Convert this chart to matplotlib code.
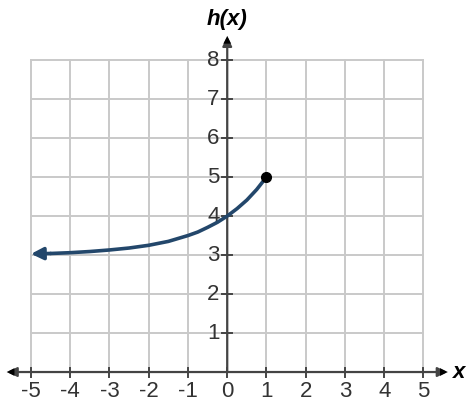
import matplotlib
matplotlib.use("Agg")
from matplotlib import pyplot as plt

# values
x_vals = [-5, -4.5, -4, -3.5, -3, -2.5, -2, -1.5, -1, -0.75, -0.5, -0.25,
          0, 0.25, 0.5, 0.75, 1]
h_vals = [3.03, 3.04, 3.06, 3.09, 3.13, 3.18, 3.25, 3.35, 3.5, 3.59, 3.71,
          3.84, 4.0, 4.19, 4.41, 4.68, 5.0]
end_point = (1, 5)
x_ticks = [-5, -4, -3, -2, -1, 0, 1, 2, 3, 4, 5]
y_ticks = [1, 2, 3, 4, 5, 6, 7, 8]

plt.rcParams['font.family'] = ['Liberation Sans', 'DejaVu Sans']

fig = plt.figure(figsize=(4.69, 4.04), dpi=100)
ax = fig.add_axes([0, 0, 1, 1])
ax.set_xlim(-5.79, 6.16)
ax.set_ylim(-0.82, 9.54)
ax.axis('off')

grid_c = '#c9c9c9'
axis_c = '#444444'

# grid
for gx in x_ticks:
    ax.plot([gx, gx], [0, 8], color=grid_c, lw=1.4, zorder=1)
for gy in [0] + y_ticks:
    ax.plot([-5, 5], [gy, gy], color=grid_c, lw=1.4, zorder=1)

# axes with arrows
ax.annotate('', xy=(-5.6, 0), xytext=(5.6, 0),
            arrowprops=dict(arrowstyle='<|-|>', color=axis_c, lw=1.6,
                            mutation_scale=14, shrinkA=0, shrinkB=0), zorder=2)
ax.annotate('', xy=(0, 8.6), xytext=(0, 0),
            arrowprops=dict(arrowstyle='-|>', color=axis_c, lw=1.6,
                            mutation_scale=14, shrinkA=0, shrinkB=0), zorder=2)
for tip, tail in [((5.62, 0), (5.5, 0)), ((-5.62, 0), (-5.5, 0)),
                  ((0, 8.62), (0, 8.5))]:
    ax.annotate('', xy=tip, xytext=tail,
                arrowprops=dict(arrowstyle='-|>', color='black', lw=0,
                                mutation_scale=14, shrinkA=0, shrinkB=0), zorder=3)

# ticks and labels
for tx in x_ticks:
    ax.plot([tx, tx], [-0.12, 0.1], color=axis_c, lw=1.4, zorder=3)
    lab = str(tx) if tx >= 0 else '-' + str(-tx)
    ax.text(tx, -0.24, lab, ha='center', va='top', fontsize=16, color='#333333')
for ty in y_ticks:
    ax.plot([-0.13, 0.13], [ty, ty], color=axis_c, lw=1.4, zorder=3)
    ax.text(-0.2, ty, str(ty), ha='right', va='center', fontsize=16, color='#333333')

ax.text(0.0, 9.05, 'h(x)', ha='center', va='center', fontsize=16,
        fontweight='bold', fontstyle='italic')
ax.text(5.75, 0.0, 'x', ha='left', va='center', fontsize=16,
        fontweight='bold', fontstyle='italic')

# the curve
curve_c = '#23476b'
ax.plot(x_vals[1:], h_vals[1:], color=curve_c, lw=2.6, solid_capstyle='round', zorder=4)
ax.annotate('', xy=(x_vals[0], h_vals[0]),
            xytext=(x_vals[1], h_vals[1]),
            arrowprops=dict(arrowstyle='-|>', color=curve_c, lw=2.6,
                            mutation_scale=18, shrinkA=0, shrinkB=0), zorder=4)
ax.plot([end_point[0]], [end_point[1]], 'o', color='black', ms=7, zorder=5)

plt.savefig('out.png', dpi=100)
